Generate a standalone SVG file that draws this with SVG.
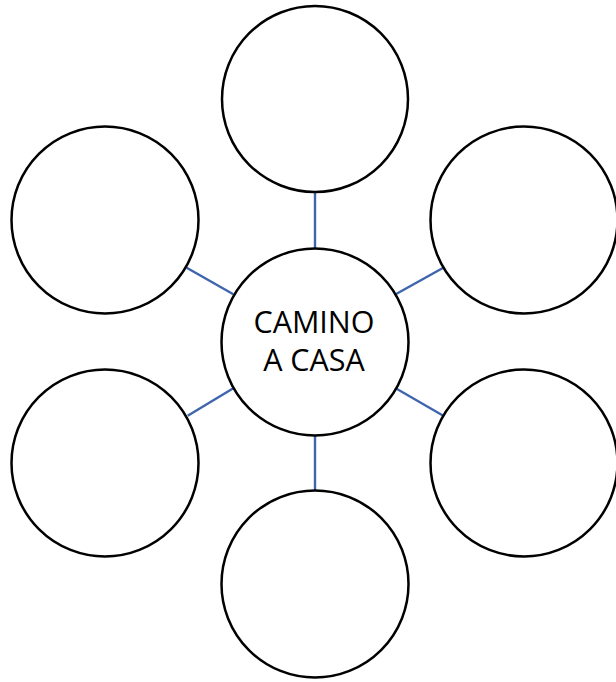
<svg xmlns="http://www.w3.org/2000/svg" width="616" height="682" viewBox="0 0 616 682">
<style>
.node{fill:#ffffff;stroke:#000000;stroke-width:2.5}
.link{stroke:#3F65AD;stroke-width:2.4;fill:none}
.label{font-family:"Open Sans","Liberation Sans",sans-serif;font-size:30.5px;fill:#000000;text-anchor:middle}
</style>
<rect width="616" height="682" fill="#ffffff"/>
<g id="connectors">
<line class="link" x1="315" y1="192" x2="315" y2="248"/>
<line class="link" x1="315" y1="436" x2="315" y2="490"/>
<line class="link" x1="186.7" y1="267.7" x2="233.3" y2="294.3"/>
<line class="link" x1="187.7" y1="415.7" x2="233.3" y2="388.3"/>
<line class="link" x1="395.7" y1="294.3" x2="443.3" y2="267.7"/>
<line class="link" x1="395.7" y1="388.3" x2="443.3" y2="415.7"/>
</g>
<g id="node-top"><circle class="node" cx="315" cy="99" r="93"/></g>
<g id="node-upper-left"><circle class="node" cx="105" cy="220" r="93.5"/></g>
<g id="node-upper-right"><circle class="node" cx="524" cy="220" r="93.5"/></g>
<g id="node-lower-left"><circle class="node" cx="105" cy="463" r="93.5"/></g>
<g id="node-lower-right"><circle class="node" cx="524" cy="463" r="93.5"/></g>
<g id="node-bottom"><circle class="node" cx="315" cy="584" r="93.5"/></g>
<g id="node-center">
<circle class="node" cx="315" cy="342" r="93.5"/>
<text class="label" x="314" y="333">CAMINO</text>
<text class="label" x="314" y="371">A CASA</text>
</g>
</svg>
